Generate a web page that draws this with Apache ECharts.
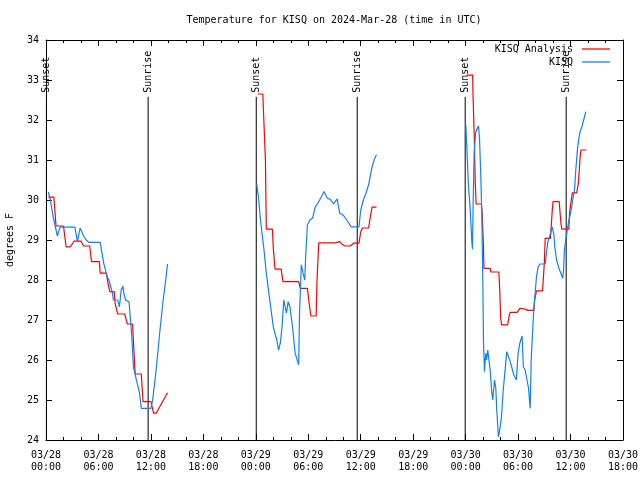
<!DOCTYPE html>
<html>
<head>
<meta charset="utf-8">
<script src="https://cdn.jsdelivr.net/npm/echarts@6/dist/echarts.min.js"></script>
<style>html,body{margin:0;padding:0;background:#fff}#c{width:640px;height:480px}</style>
</head>
<body>
<div id="c"></div>
<script>
// Hours since 2024-03-28 00:00 UTC
const chartTitle = 'Temperature for KISQ on 2024-Mar-28 (time in UTC)';
const yAxisName = 'degrees F';
const seriesNames = ['KISQ Analysis', 'KISQ'];

const analysisHours = [0.27,0.9,1.15,2.0,2.3,2.8,3.2,4.0,4.3,5.0,5.2,6.1,6.2,6.9,7.1,7.3,7.8,7.9,8.1,8.2,9.0,9.3,9.9,10.2,10.9,11.1,12.0,12.3,12.6,13.9,
  null,
  24.2,24.8,24.9,25.1,25.2,25.9,26.0,26.2,26.9,27.1,28.9,29.1,29.9,30.1,30.3,30.9,31.0,31.2,33.1,33.6,33.8,34.2,34.8,35.2,35.8,36.0,36.2,36.9,37.1,37.3,37.8,
  null,
  48.1,48.8,48.85,49.0,49.1,49.2,49.8,49.9,50.0,50.1,50.8,50.9,51.8,51.9,52.0,52.1,52.8,53.0,53.1,53.9,54.2,54.7,55.1,55.8,55.9,56.1,56.8,57.0,57.1,57.7,57.9,58.0,58.7,58.9,59.0,59.8,59.9,60.2,60.7,60.9,61.1,61.2,61.8];
const analysisTemps = [30.07,30.07,29.35,29.35,28.83,28.83,28.97,28.97,28.85,28.85,28.46,28.46,28.17,28.17,27.9,27.71,27.71,27.42,27.42,27.15,27.15,26.9,26.9,25.65,25.65,24.96,24.96,24.67,24.67,25.18,
  null,
  32.65,32.65,32.08,31.0,29.27,29.27,28.79,28.27,28.27,27.96,27.96,27.79,27.79,27.42,27.1,27.1,28.0,28.93,28.93,28.96,28.9,28.85,28.85,28.92,28.92,29.2,29.3,29.3,29.58,29.82,29.82,
  null,
  33.12,33.12,32.58,31.5,30.42,29.9,29.9,29.63,29.08,28.29,28.29,28.2,28.2,27.75,27.08,26.88,26.88,27.12,27.19,27.19,27.29,27.28,27.24,27.24,27.5,27.73,27.73,28.42,29.04,29.04,29.71,29.96,29.96,29.42,29.27,29.27,29.71,30.18,30.18,30.42,31.08,31.25,31.25];

const obsHours = [0.27,0.5,0.8,1.3,1.6,3.3,3.6,3.9,4.3,4.6,4.9,6.2,6.6,7.0,7.2,7.6,7.7,8.2,8.4,8.6,8.8,8.9,9.1,9.5,9.8,10.0,10.3,10.5,10.7,10.9,12.0,12.2,12.6,13.0,13.4,13.7,13.9,
  null,
  24.1,24.3,24.5,24.7,24.9,25.2,25.4,25.7,26.0,26.4,26.6,26.8,27.0,27.2,27.5,27.7,27.9,28.2,28.5,28.9,29.0,29.2,29.4,29.6,29.7,29.9,30.2,30.5,30.8,31.1,31.5,31.8,32.2,32.5,32.9,33.3,33.6,34.0,34.4,34.9,35.8,36.0,36.3,36.6,36.9,37.3,37.6,37.8,
  null,
  48.02,48.1,48.33,48.5,48.6,48.7,48.78,48.86,48.97,49.16,49.35,49.47,49.58,49.73,49.85,49.96,50.04,50.15,50.3,50.4,50.53,50.8,51.0,51.1,51.3,51.45,51.56,51.75,51.95,52.1,52.3,52.5,52.7,52.9,53.1,53.3,53.5,53.8,54.0,54.2,54.46,54.6,54.8,55.0,55.2,55.38,55.5,55.65,55.8,55.95,56.1,56.3,56.5,57.1,57.25,57.4,57.6,57.75,57.9,58.1,58.2,58.4,58.7,58.9,59.1,59.2,59.3,59.45,59.6,59.75,60.07,60.25,60.45,60.6,60.8,60.95,61.1,61.3,61.5,61.75];
const obsTemps = [30.2,30.0,29.6,29.1,29.32,29.32,28.96,29.3,29.1,29.0,28.94,28.94,28.42,28.08,28.0,27.67,27.5,27.5,27.33,27.75,27.85,27.67,27.5,27.45,26.63,25.83,25.54,25.5,25.17,24.79,24.79,25.0,25.75,26.67,27.5,28.0,28.4,
  null,
  30.4,30.08,29.58,29.17,28.83,28.17,27.83,27.33,26.83,26.5,26.25,26.42,26.83,27.5,27.17,27.46,27.33,26.83,26.17,25.88,27.17,28.38,28.17,28.0,28.58,29.38,29.5,29.55,29.83,29.92,30.08,30.21,30.04,30.02,29.9,30.03,29.67,29.62,29.5,29.33,29.33,29.75,30.0,30.17,30.38,30.83,31.04,31.13,
  null,
  31.88,31.5,30.33,29.83,29.42,29.0,28.77,29.9,31.17,31.71,31.79,31.85,31.58,30.63,29.63,28.08,26.5,25.71,26.17,26.0,26.25,25.75,25.17,25.0,25.5,25.3,24.75,24.08,24.33,24.58,25.25,25.71,26.21,26.17,25.96,25.8,25.63,25.5,26.17,26.42,26.6,25.83,25.75,25.75,25.29,24.79,26.0,26.67,27.29,27.67,28.08,28.33,28.4,28.4,28.67,28.96,29.08,29.21,29.33,29.13,28.83,28.5,28.27,28.17,28.04,28.25,28.75,29.0,29.21,29.42,29.75,30.0,30.25,30.75,31.29,31.54,31.71,31.83,32.0,32.21];

const sunHours = [0.05, 11.68, 24.05, 35.6, 47.95, 59.5];
const sunLabels = ['Sunset', 'Sunrise', 'Sunset', 'Sunrise', 'Sunset', 'Sunrise'];
const sunLineTop = 32.58;

const yTicks = {min: 24, max: 34, step: 1};
const xTicks = {min: 0, max: 66, step: 6, minorPerStep: 3};

function pairs(xs, ys) {
  return xs.map((x, i) => (x === null ? [null, null] : [x, ys[i]]));
}
function pad(n) { return (n < 10 ? '0' : '') + n; }
function timeLabel(h) {
  const day = 28 + Math.floor(h / 24);
  const hh = Math.round(h % 24);
  return '03/' + pad(day) + '\n' + pad(hh) + ':00';
}

const FONT = 'DejaVu Sans Mono';
const chart = echarts.init(document.getElementById('c'), null, {renderer: 'canvas'});

const baseX = {
  type: 'value', min: xTicks.min, max: xTicks.max, interval: xTicks.step,
  axisLine: {show: true, onZero: false, lineStyle: {color: '#000', width: 1}},
  axisTick: {show: true, inside: true, length: 6, lineStyle: {color: '#000'}},
  minorTick: {show: true, splitNumber: xTicks.minorPerStep, length: 3, lineStyle: {color: '#000'}},
  splitLine: {show: false}
};
const baseY = {
  type: 'value', min: yTicks.min, max: yTicks.max, interval: yTicks.step,
  axisLine: {show: true, onZero: false, lineStyle: {color: '#000', width: 1}},
  axisTick: {show: true, inside: true, length: 6, lineStyle: {color: '#000'}},
  splitLine: {show: false}
};

chart.setOption({
  animation: false,
  backgroundColor: '#fff',
  title: {
    text: chartTitle, left: 329, textAlign: 'center', top: 10,
    textStyle: {fontFamily: FONT, fontSize: 10, fontWeight: 'normal', color: '#000'}
  },
  grid: {left: 46, right: 17, top: 40, bottom: 40, containLabel: false, outerBoundsMode: 'none'},
  legend: {
    orient: 'vertical', right: 25, top: 39, align: 'right',
    data: seriesNames, icon: 'rect', itemWidth: 28, itemHeight: 1.3, itemGap: 3,
    textStyle: {fontFamily: FONT, fontSize: 10, color: '#000', lineHeight: 10, padding: [0, 4, 0, 0]},
    selectedMode: false
  },
  xAxis: [
    Object.assign({}, baseX, {
      position: 'bottom',
      axisLabel: {fontFamily: FONT, fontSize: 10, color: '#000', margin: 9, lineHeight: 12, formatter: timeLabel}
    }),
    Object.assign({}, baseX, {position: 'top', axisLabel: {show: false}})
  ],
  yAxis: [
    Object.assign({}, baseY, {
      position: 'left',
      name: yAxisName, nameLocation: 'middle', nameRotate: 90, nameGap: 31,
      nameTextStyle: {fontFamily: FONT, fontSize: 10, color: '#000'},
      axisLabel: {fontFamily: FONT, fontSize: 10, color: '#000', margin: 7}
    }),
    Object.assign({}, baseY, {position: 'right', axisLabel: {show: false}})
  ],
  series: [
    {
      type: 'custom', name: 'sun', xAxisIndex: 0, yAxisIndex: 0, silent: true, clip: false,
      data: sunHours.map((h, i) => [h, sunLabels[i]]),
      renderItem: function (params, api) {
        const h = api.value(0);
        const label = sunLabels[params.dataIndex];
        const p0 = api.coord([h, yTicks.min]);
        const p1 = api.coord([h, sunLineTop]);
        return {
          type: 'group',
          children: [
            {type: 'line', shape: {x1: p0[0], y1: p0[1], x2: p1[0], y2: p1[1]}, style: {stroke: '#000', lineWidth: 1}},
            {type: 'text', x: p1[0], y: p1[1] - 4, rotation: Math.PI / 2,
              style: {text: label, align: 'left', verticalAlign: 'middle', fill: '#000', font: '10px "' + FONT + '"'}}
          ]
        };
      }
    },
    {
      name: seriesNames[0], type: 'line', data: pairs(analysisHours, analysisTemps),
      showSymbol: false, symbol: 'none', connectNulls: false,
      lineStyle: {color: '#ff0000', width: 1.2}, itemStyle: {color: '#ff0000'}
    },
    {
      name: seriesNames[1], type: 'line', data: pairs(obsHours, obsTemps),
      showSymbol: false, symbol: 'none', connectNulls: false,
      lineStyle: {color: '#1080ff', width: 1.2}, itemStyle: {color: '#1080ff'}
    }
  ]
});
</script>
</body>
</html>
